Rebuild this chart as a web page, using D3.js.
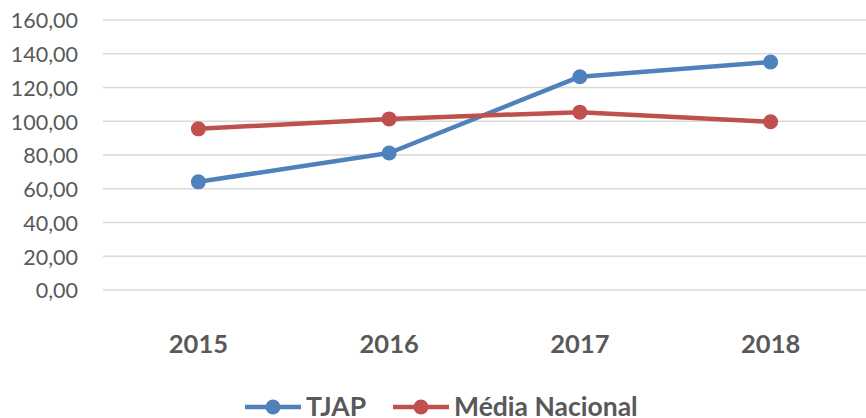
<!DOCTYPE html>
<html>
<head>
<meta charset="utf-8">
<script src="https://cdn.jsdelivr.net/npm/d3@7"></script>
<style>
html,body{margin:0;padding:0;background:#fff;}
svg{display:block;}
</style>
</head>
<body>
<svg id="chart" width="866" height="418"></svg>
<script>
const categories = ["2015", "2016", "2017", "2018"];
const tjap = [64.1, 81.2, 126.4, 135.1];
const mediaNacional = [95.5, 101.4, 105.4, 99.7];
const yTicks = [0, 20, 40, 60, 80, 100, 120, 140, 160];
const seriesNames = ["TJAP", "Média Nacional"];
const seriesColors = ["#4F81BD", "#C0504D"];

(function () {
const svg = d3.select("#chart");
const plotLeft = 103, plotRight = 866, plotTop = 20, plotBottom = 290;

const x = d3.scaleBand().domain(categories).range([plotLeft, plotRight]);
const y = d3.scaleLinear().domain([0, 160]).range([plotBottom, plotTop]);
const fmt = v => d3.format(".2f")(v).replace(".", ",");

// gridlines
svg.append("g").selectAll("line").data(yTicks).join("line")
  .attr("x1", plotLeft).attr("x2", plotRight)
  .attr("y1", d => y(d)).attr("y2", d => y(d))
  .attr("stroke", "#D9D9D9").attr("stroke-width", 1.5);

// y axis labels
const yAxis = d3.axisLeft(y).tickValues(yTicks).tickFormat(fmt).tickSize(0).tickPadding(0);
const ya = svg.append("g").attr("transform", "translate(78,0)").call(yAxis);
ya.select(".domain").remove();
ya.selectAll("text").attr("font-family", "Lato, 'Open Sans', sans-serif")
  .attr("font-size", 21.5).attr("fill", "#595959").attr("dy", "0.36em");

// x axis labels
const xAxis = d3.axisBottom(x).tickSize(0).tickPadding(0);
const xa = svg.append("g").attr("transform", "translate(0,335)").call(xAxis);
xa.select(".domain").remove();
xa.selectAll("text").attr("font-family", "Lato, 'Open Sans', sans-serif")
  .attr("font-size", 25.5).attr("font-weight", "bold").attr("fill", "#595959")
  .attr("dy", "0.72em");

const series = [tjap, mediaNacional];
const line = d3.line().x((d, i) => x(categories[i]) + x.bandwidth() / 2).y(d => y(d));

series.forEach((vals, si) => {
  svg.append("path").datum(vals).attr("d", line)
    .attr("fill", "none").attr("stroke", seriesColors[si]).attr("stroke-width", 4.5)
    .attr("stroke-linejoin", "round");
  svg.append("g").selectAll("circle").data(vals).join("circle")
    .attr("cx", (d, i) => x(categories[i]) + x.bandwidth() / 2)
    .attr("cy", d => y(d)).attr("r", 7.5).attr("fill", seriesColors[si]);
});

// legend
const legendItems = [{x: 245, tx: 306}, {x: 393, tx: 454}];
const legendY = 407;
legendItems.forEach((p, i) => {
  const g = svg.append("g");
  g.append("line").attr("x1", p.x).attr("x2", p.x + 56).attr("y1", legendY).attr("y2", legendY)
    .attr("stroke", seriesColors[i]).attr("stroke-width", 4.5);
  g.append("circle").attr("cx", p.x + 28).attr("cy", legendY).attr("r", 7.5).attr("fill", seriesColors[i]);
  g.append("text").attr("x", p.tx).attr("y", 416).text(seriesNames[i])
    .attr("font-family", "Lato, 'Open Sans', sans-serif").attr("font-size", 26.5)
    .attr("font-weight", "bold").attr("fill", "#595959");
});
})();
</script>
</body>
</html>
